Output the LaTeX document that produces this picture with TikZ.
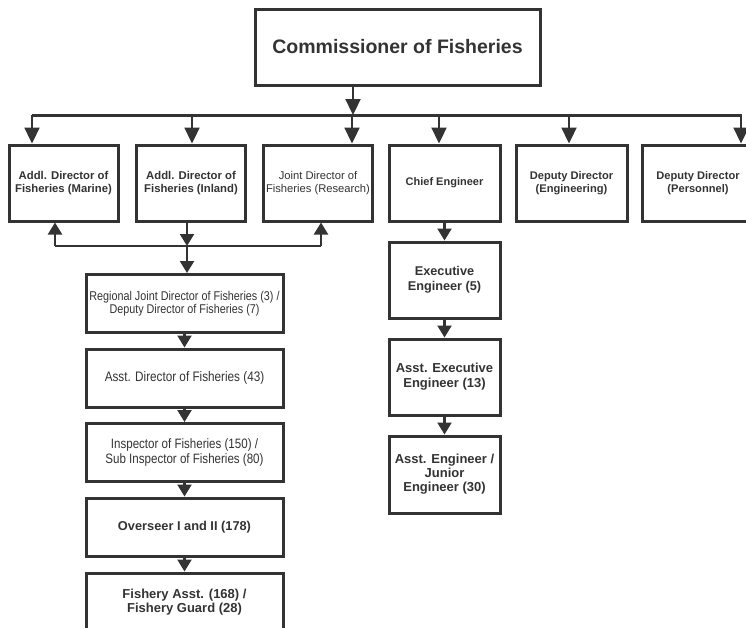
\documentclass[tikz,border=0pt]{standalone}
\usepackage{fontspec}
\setmainfont{Liberation Sans}
\newfontfamily\narrowsans{Liberation Sans}[FakeStretch=0.85]
\usetikzlibrary{arrows.meta}
\definecolor{ink}{HTML}{333333}
\begin{document}
\begin{tikzpicture}[x=1pt,y=-1pt,
  box/.style={draw=ink, line width=3pt, fill=white, inner sep=0pt, align=center, text=ink},
  toprow/.style={box, minimum width=109pt, minimum height=76pt},
  lchain/.style={box, minimum width=197pt, minimum height=58pt},
  rchain/.style={box, minimum width=111pt, minimum height=76pt},
  conn/.style={draw=ink, line width=2.3pt},
  arr/.style={conn, -{Triangle[length=12pt,width=14pt]}},
  bigarr/.style={conn, -{Triangle[length=16pt,width=15pt]}},
  fb/.style={font=\fontsize{#1}{13.2}\selectfont\bfseries},
  fr/.style={font=\fontsize{#1}{13}\selectfont},
  fn/.style={font=\narrowsans\fontsize{#1}{13}\selectfont},
]
\useasboundingbox (0,0) rectangle (746,627);
\clip (0,0) rectangle (746,627);

% top
\node[box, minimum width=285pt, minimum height=76pt, font=\fontsize{19.5}{22}\selectfont\bfseries] (comm) at (397.5,47) {Commissioner of Fisheries};

% second row
\node[toprow, fb=11.3] (marine) at (63.5,183) {Addl. Director of\\Fisheries (Marine)};
\node[toprow, fb=11.3] (inland) at (191,183) {Addl. Director of\\Fisheries (Inland)};
\node[toprow, fr=11.2] (research) at (318,183) {Joint Director of\\Fisheries (Research)};
\node[toprow, minimum width=111pt, fb=11] (chief) at (444.5,183) {Chief Engineer};
\node[toprow, minimum width=111pt, fb=11.1] (depeng) at (571.5,183) {Deputy Director\\(Engineering)};
\node[toprow, minimum width=111pt, fb=11.1] (deppers) at (698,183) {Deputy Director\\(Personnel)};

% bus
\coordinate (bL) at (32,115);
\coordinate (bR) at (742,115);
\coordinate (bC) at (353,115);
\coordinate (b2) at (192,115);
\coordinate (b3) at (352,115);
\coordinate (b4) at (439,115);
\coordinate (b5) at (569,115);
\coordinate (b6) at (741,115);
\draw[conn, line width=3pt] (bL) -- (bR);
\draw[bigarr] (bC |- comm.south) -- (bC);
\draw[bigarr] (bL) -- (bL |- marine.north);
\draw[bigarr] (b2) -- (b2 |- inland.north);
\draw[bigarr] (b3) -- (b3 |- research.north);
\draw[bigarr] (b4) -- (b4 |- chief.north);
\draw[bigarr] (b5) -- (b5 |- depeng.north);
\draw[bigarr] (b6) -- (b6 |- deppers.north);

% left chain
\node[lchain, fn=12.7] (regional) at (184.5,303.5) {Regional Joint Director of Fisheries (3) /\\Deputy Director of Fisheries (7)};
\node[lchain, fn=13.8] (asstdir) at (184.5,378) {Asst. Director of Fisheries (43)};
\node[lchain, font=\narrowsans\fontsize{13.6}{14.3}\selectfont] (inspector) at (184.5,452.5) {Inspector of Fisheries (150) /\\Sub Inspector of Fisheries (80)};
\node[lchain, fb=12.8] (overseer) at (184.5,527) {Overseer I and II (178)};
\node[lchain, font=\fontsize{13}{13.5}\selectfont\bfseries] (fishery) at (184.5,602) {Fishery Asst. (168) /\\Fishery Guard (28)};

% link under second row
\coordinate (jL) at (55,246);
\coordinate (jC) at (187,246);
\coordinate (jR) at (321,246);
\draw[conn] (jL) -- (jR);
\draw[arr] (jC |- inland.south) -- (jC);
\draw[arr] (jL) -- (jL |- marine.south);
\draw[arr] (jR) -- (jR |- research.south);
\draw[arr] (jC) -- (jC |- regional.north);

\draw[arr] (regional) -- (asstdir);
\draw[arr] (asstdir) -- (inspector);
\draw[arr] (inspector) -- (overseer);
\draw[arr] (overseer) -- (fishery);

% right chain
\node[rchain, font=\fontsize{12.7}{15}\selectfont\bfseries] (exec) at (444.5,280) {Executive\\Engineer (5)};
\node[rchain, font=\fontsize{13}{15}\selectfont\bfseries] (asstexec) at (444.5,377) {Asst. Executive\\Engineer (13)};
\node[rchain, minimum height=77pt, font=\fontsize{13}{14}\selectfont\bfseries] (asseng) at (444.5,474.5) {Asst. Engineer /\\Junior\\Engineer (30)};

\draw[arr] (chief) -- (exec);
\draw[arr] (exec) -- (asstexec);
\draw[arr] (asstexec) -- (asseng);
\end{tikzpicture}
\end{document}
